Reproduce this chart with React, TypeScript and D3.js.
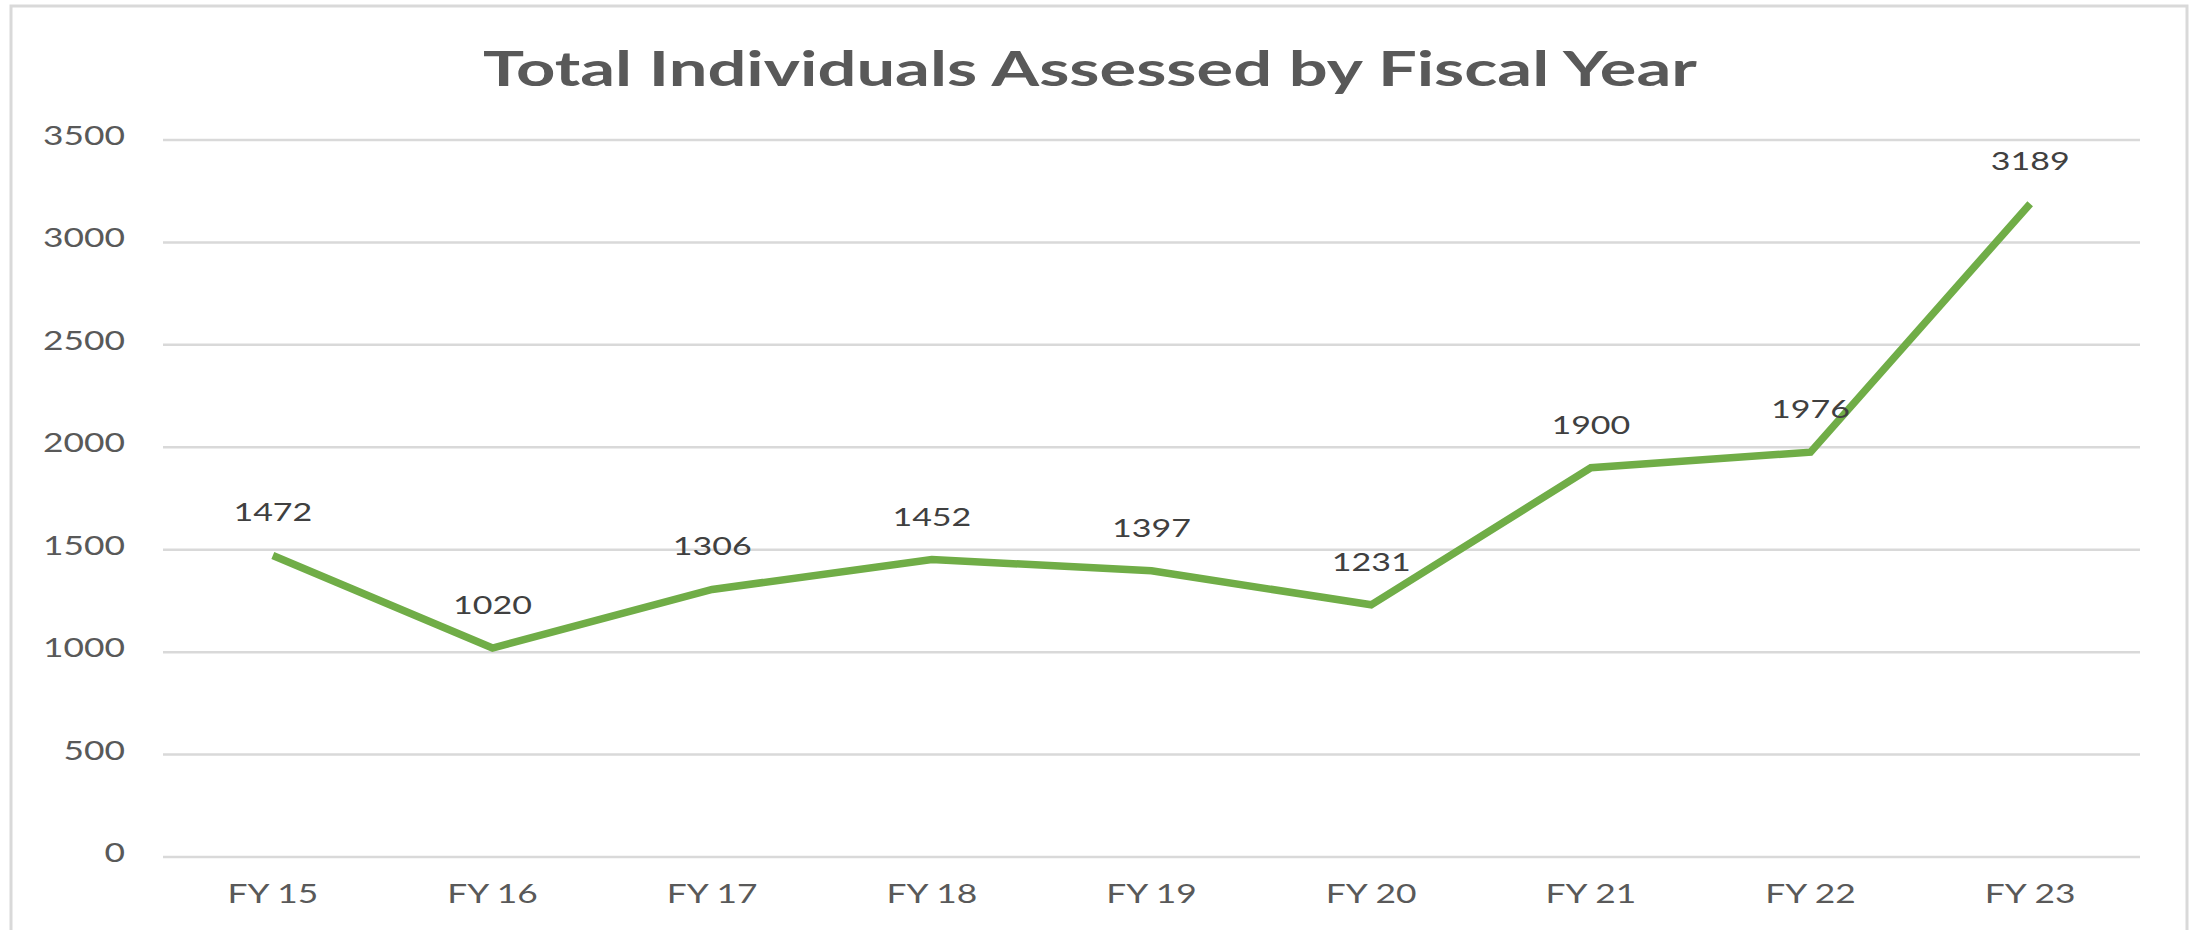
import React from 'react'
import * as d3 from 'd3'

// chart data
const years = ['FY 15', 'FY 16', 'FY 17', 'FY 18', 'FY 19', 'FY 20', 'FY 21', 'FY 22', 'FY 23']
const assessed = [1472, 1020, 1306, 1452, 1397, 1231, 1900, 1976, 3189]
const yTicks = [0, 500, 1000, 1500, 2000, 2500, 3000, 3500]
const title = 'Total Individuals Assessed by Fiscal Year'

const W = 2195
const H = 930
const SX = 1.36 // the picture is stretched sideways

const App = () => {
    // plot area
    const left = 163
    const right = 2140
    const top = 140
    const bottom = 857

    const x = d3.scaleBand().domain(years).range([left, right])
    const y = d3.scaleLinear().domain([0, 3500]).range([bottom, top])

    const cx = (d: string) => (x(d) || 0) + x.bandwidth() / 2

    const line = d3
        .line<number>()
        .x((_, i) => cx(years[i]))
        .y((d) => y(d))

    const font = 'Lato, "Open Sans", sans-serif'

    // text stretched horizontally around its anchor
    const label = (tx: number, ty: number, s: string, anchor: string, size: number, fill: string, key?: string, weight = 400, sx = SX) => (
        <text
            key={key}
            transform={`translate(${tx},${ty}) scale(${sx},1)`}
            textAnchor={anchor}
            fontSize={size}
            fontWeight={weight}
            fontFamily={font}
            fill={fill}
        >
            {s}
        </text>
    )

    return (
        <svg width={W} height={H} style={{ position: 'absolute', left: 0, top: 0, background: '#fff' }}>
            <rect x={11} y={6} width={2176} height={960} fill='#fff' stroke='#d9d9d9' strokeWidth={3} />

            {label(1090, 86, title, 'middle', 48, '#595959', 'title', 700, 1.43)}

            {/* gridlines + y labels */}
            {yTicks.map((t) => (
                <g key={t}>
                    <line x1={left} x2={right} y1={y(t)} y2={y(t)} stroke='#d9d9d9' strokeWidth={2.5} />
                    {label(125, y(t) + 5, String(t), 'end', 26, '#595959')}
                </g>
            ))}

            {/* x labels */}
            {years.map((d) => label(cx(d), 903, d, 'middle', 26, '#595959', d))}

            <path d={line(assessed) || ''} fill='none' stroke='#70ad47' strokeWidth={7.5} strokeLinejoin='miter' strokeLinecap='butt' />

            {/* data labels */}
            {assessed.map((v, i) => label(cx(years[i]), y(v) - 34, String(v), 'middle', 25, '#404040', 'v' + i))}
        </svg>
    )
}

export default App
